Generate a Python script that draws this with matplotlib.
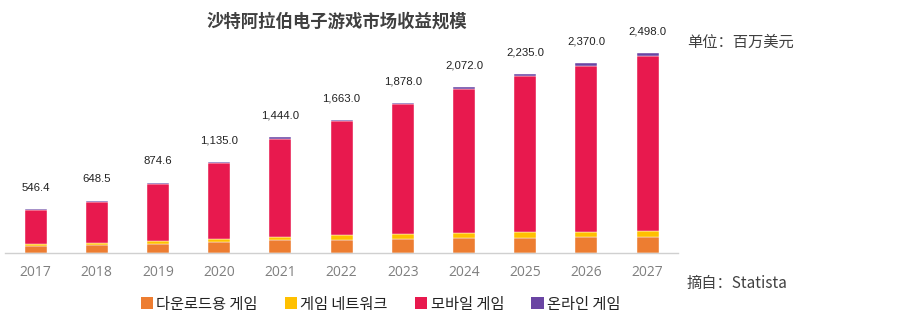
import matplotlib
matplotlib.use('Agg')
import matplotlib.pyplot as plt
import numpy as np
from matplotlib.patches import Patch

plt.rcParams['font.family'] = ['Noto Sans CJK SC', 'DejaVu Sans']

# 数据 (百万美元)
years = ['2017', '2018', '2019', '2020', '2021', '2022',
         '2023', '2024', '2025', '2026', '2027']
totals = [546.4, 648.5, 874.6, 1135.0, 1444.0, 1663.0,
          1878.0, 2072.0, 2235.0, 2370.0, 2498.0]
download = [88, 104, 115, 140, 166, 166, 179, 183, 191, 196, 196]
network = [21, 21, 29, 33, 33, 54, 54, 62, 67, 67, 75]
online = [6, 10, 12, 14, 16, 18, 20, 22, 26, 28, 30]
mobile = [t - d - n - o for t, d, n, o in zip(totals, download, network, online)]

series = ['다운로드용 게임', '게임 네트워크', '모바일 게임', '온라인 게임']
colors = ['#ED7D31', '#FFC000', '#E8194E', '#6A45A3']

fig = plt.figure(figsize=(9.06, 3.28), dpi=100)
ax = fig.add_axes([0.0055, 0.2287, 0.743, 0.683])

x = np.arange(len(years))
w = 0.36
bottom = np.zeros(len(years))
for vals, c in zip([download, network, mobile, online], colors):
    ax.bar(x, vals, w, bottom=bottom, color=c, edgecolor='#FFFFFF',
           linewidth=0.3)
    bottom += np.array(vals)

# 顶部数值标签
for xi, t in zip(x, totals):
    ax.annotate(f'{t:,.1f}', (xi, t), xytext=(0, 12), textcoords='offset points',
                ha='center', va='bottom', fontsize=8.2, color='#222222',
                family=['Liberation Sans', 'DejaVu Sans'])

ax.set_xlim(-0.5, len(years) - 0.5)
ax.set_ylim(0, 2800)
ax.set_xticks(x)
ax.set_xticklabels(years, fontsize=10, color='#7F7F7F',
                   family=['Open Sans', 'DejaVu Sans'])
ax.tick_params(axis='x', length=0, pad=9)
ax.set_yticks([])
for s in ['top', 'right', 'left']:
    ax.spines[s].set_visible(False)
ax.spines['bottom'].set_color('#D0D0D0')
ax.spines['bottom'].set_linewidth(1.0)

fig.text(0.372, 0.935, '沙特阿拉伯电子游戏市场收益规模', ha='center', va='center',
         fontsize=12.5, fontweight='bold', color='#404040')
fig.text(0.758, 0.872, '单位：百万美元', ha='left', va='center',
         fontsize=11, color='#404040')
fig.text(0.758, 0.137, '摘自：Statista', ha='left', va='center',
         fontsize=11, color='#404040')

handles = [Patch(facecolor=c, edgecolor='none') for c in colors]
fig.legend(handles, series, loc='center', bbox_to_anchor=(0.42, 0.073),
           ncol=4, frameon=False, handlelength=0.8, handleheight=0.8,
           handletextpad=0.2, columnspacing=1.8,
           prop={'family': ['Noto Sans CJK KR', 'DejaVu Sans'], 'size': 11},
           labelcolor='#222222')

fig.savefig('out.png', dpi=100)
